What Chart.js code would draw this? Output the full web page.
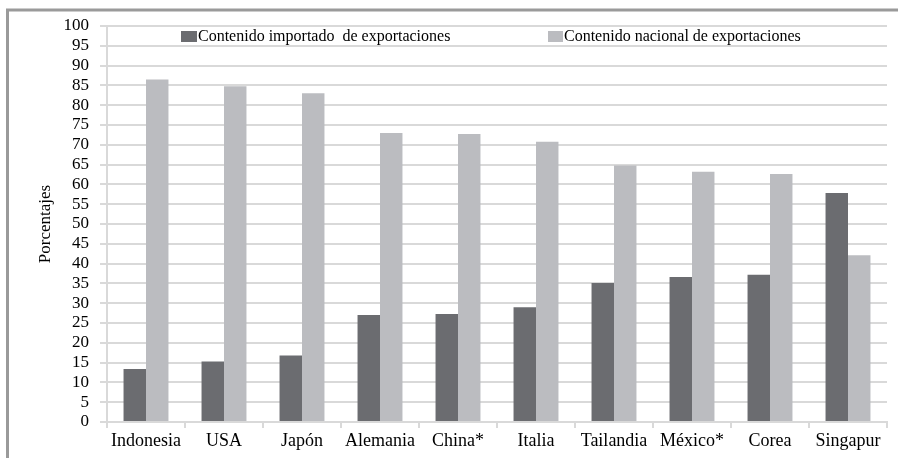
<!DOCTYPE html>
<html lang="es">
<head>
<meta charset="utf-8">
<title>Contenido importado y nacional de exportaciones</title>
<script src="https://cdn.jsdelivr.net/npm/chart.js@4/dist/chart.umd.min.js"></script>
<style>
  html, body { margin: 0; padding: 0; background: #ffffff; }
  #wrap { position: relative; width: 898px; height: 458px; }
  canvas { display: block; }
</style>
</head>
<body>
<div id="wrap"><canvas id="chart" width="898" height="458"></canvas></div>
<script>
// Países (eje de categorías)
const paises = ['Indonesia', 'USA', 'Japón', 'Alemania', 'China*', 'Italia', 'Tailandia', 'México*', 'Corea', 'Singapur'];

// Porcentaje del valor exportado según su origen
const contenidoImportado = [13.4, 15.3, 16.8, 27.0, 27.3, 29.0, 35.1, 36.6, 37.2, 57.8];
const contenidoNacional  = [86.5, 84.8, 83.0, 73.0, 72.7, 70.8, 64.8, 63.2, 62.6, 42.1];

// Marcas del eje vertical
const marcasY = [0, 5, 10, 15, 20, 25, 30, 35, 40, 45, 50, 55, 60, 65, 70, 75, 80, 85, 90, 95, 100];

const serieImportado = 'Contenido importado  de exportaciones';
const serieNacional = 'Contenido nacional de exportaciones';

const colorOscuro = '#6b6c70';
const colorClaro = '#bbbcc0';
const colorRejilla = '#d9d9d9';
const fuente = "'Liberation Serif', 'Times New Roman', serif";

// Marco gris exterior (bordes superior e izquierdo)
const marco = {
  id: 'marco',
  beforeDraw(chart) {
    const ctx = chart.ctx;
    ctx.save();
    ctx.strokeStyle = '#9a9a9a';
    ctx.lineWidth = 3;
    ctx.beginPath();
    ctx.moveTo(7.5, 470);
    ctx.lineTo(7.5, 10);
    ctx.lineTo(910, 10);
    ctx.stroke();
    ctx.restore();
  }
};

// Leyenda dibujada dentro del área del gráfico
const leyendaInterior = {
  id: 'leyendaInterior',
  afterDatasetsDraw(chart) {
    const ctx = chart.ctx;
    const items = [
      { x: 181, w: 16, texto: chart.data.datasets[0].label, color: chart.data.datasets[0].backgroundColor },
      { x: 548, w: 15, texto: chart.data.datasets[1].label, color: chart.data.datasets[1].backgroundColor }
    ];
    ctx.save();
    ctx.font = '16px ' + fuente;
    ctx.textBaseline = 'middle';
    ctx.textAlign = 'left';
    items.forEach(it => {
      ctx.fillStyle = it.color;
      ctx.fillRect(it.x, 31, it.w, 11);
      ctx.fillStyle = '#000000';
      ctx.fillText(it.texto, it.x + it.w + 1, 37);
    });
    ctx.restore();
  }
};

new Chart(document.getElementById('chart'), {
  type: 'bar',
  data: {
    labels: paises,
    datasets: [
      {
        label: serieImportado,
        data: contenidoImportado,
        backgroundColor: colorOscuro,
        categoryPercentage: 0.576,
        barPercentage: 1.0
      },
      {
        label: serieNacional,
        data: contenidoNacional,
        backgroundColor: colorClaro,
        categoryPercentage: 0.576,
        barPercentage: 1.0
      }
    ]
  },
  options: {
    responsive: false,
    animation: false,
    devicePixelRatio: 1,
    layout: { padding: { top: 26, right: 11, left: 0, bottom: 0 } },
    plugins: {
      legend: { display: false },
      tooltip: { enabled: false },
      title: { display: false }
    },
    scales: {
      x: {
        afterFit(scale) { scale.height = 36; },
        grid: {
          display: true,
          drawOnChartArea: false,
          drawTicks: true,
          tickLength: 6,
          color: colorRejilla,
          lineWidth: 2
        },
        border: { display: true, color: colorRejilla, width: 2 },
        ticks: {
          color: '#000000',
          font: { family: fuente, size: 18 },
          padding: 2,
          maxRotation: 0,
          autoSkip: false
        }
      },
      y: {
        min: 0,
        max: 100,
        afterFit(scale) { scale.width = 107; },
        afterBuildTicks(scale) { scale.ticks = marcasY.map(v => ({ value: v })); },
        grid: {
          color: colorRejilla,
          lineWidth: 2,
          drawTicks: true,
          tickLength: 7,
          tickColor: colorRejilla
        },
        border: { display: true, color: colorRejilla, width: 2 },
        ticks: {
          color: '#000000',
          font: { family: fuente, size: 17 },
          padding: 11,
          autoSkip: false,
          stepSize: 5
        },
        title: {
          display: true,
          text: 'Porcentajes',
          color: '#000000',
          font: { family: fuente, size: 17 },
          padding: { top: 35, bottom: 0 }
        }
      }
    }
  },
  plugins: [marco, leyendaInterior]
});
</script>
</body>
</html>
